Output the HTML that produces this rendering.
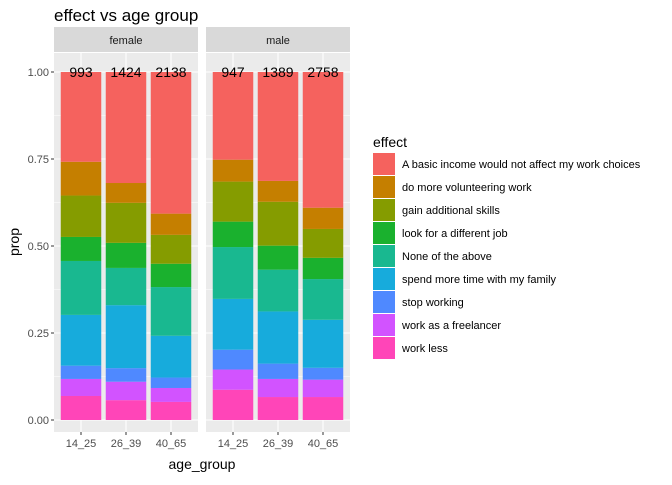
<!DOCTYPE html>
<html><head><meta charset="utf-8"><style>
body{margin:0;background:#fff;font-family:"Liberation Sans",sans-serif;}
</style></head><body>
<svg id="chart" width="672" height="480" xmlns="http://www.w3.org/2000/svg" font-family="Liberation Sans, sans-serif">
<text x="54" y="21" font-size="17" fill="#000">effect vs age group</text>
<g id="panels"></g>
<text x="202" y="469" font-size="14" text-anchor="middle">age_group</text>
<text transform="translate(19,242) rotate(-90)" font-size="14" text-anchor="middle">prop</text>
<g id="legend"></g>
</svg>
<script>
const effects=["A basic income would not affect my work choices","do more volunteering work","gain additional skills","look for a different job","None of the above","spend more time with my family","stop working","work as a freelancer","work less"];
const colors=["#F5625E","#C57F00","#859C00","#1AB12E","#19B890","#17ABDC","#4F89FF","#D253FF","#FF45B8"];
const genders=["female","male"];
const ageGroups=["14_25","26_39","40_65"];
const counts=[[993,1424,2138],[947,1389,2758]];
// proportions per bar, bottom-to-top order: work less ... A basic income
const female14=[0.069,0.049,0.038,0.146,0.155,0.069,0.119,0.097,0.258];
const female26=[0.057,0.053,0.039,0.181,0.107,0.072,0.115,0.057,0.319];
const female40=[0.052,0.040,0.030,0.120,0.140,0.067,0.083,0.061,0.407];
const male14=[0.087,0.058,0.057,0.146,0.149,0.073,0.115,0.063,0.252];
const male26=[0.066,0.052,0.044,0.150,0.120,0.069,0.126,0.060,0.313];
const male40=[0.066,0.050,0.034,0.138,0.117,0.061,0.083,0.061,0.390];
const yTicks=["0.00","0.25","0.50","0.75","1.00"];

const props=[[female14,female26,female40],[male14,male26,male40]];
const NS="http://www.w3.org/2000/svg";
const g=document.getElementById('panels');
function mk(t,a,p){const e=document.createElementNS(NS,t);for(const k in a)e.setAttribute(k,a[k]);(p||g).appendChild(e);return e;}
const y=v=>420-v*348;
const panelX=[54,206],pw=144,pTop=53,pBot=432;
const unit=pw/3.2;
const x=(pi,i)=>panelX[pi]+(0.6+i)*unit;
const bw=unit*0.9;
genders.forEach((gd,pi)=>{
  const px=panelX[pi];
  const bg=mk('rect',{x:px,y:pTop,width:pw,height:pBot-pTop,fill:'#EBEBEB'});
  
  
  for(let v=0.125;v<1.1;v+=0.25)mk('line',{x1:px,x2:px+pw,y1:y(v),y2:y(v),stroke:'#fff','stroke-width':0.5});
  yTicks.forEach(t=>mk('line',{x1:px,x2:px+pw,y1:y(+t),y2:y(+t),stroke:'#fff','stroke-width':1.1}));
  ageGroups.forEach((a,i)=>mk('line',{x1:x(pi,i),x2:x(pi,i),y1:pTop,y2:pBot,stroke:'#fff','stroke-width':1.1}));
  const st=mk('rect',{x:px,y:27,width:pw,height:25,fill:'#D9D9D9'});
  
  
  const stt=mk('text',{x:px+pw/2,y:44,'font-size':11,'text-anchor':'middle',fill:'#1A1A1A'});
  stt.textContent=gd;
  
  
  ageGroups.forEach((a,i)=>{
    let cum=0;const vals=props[pi][i];
    vals.forEach((v,k)=>{
      const r=mk('rect',{x:x(pi,i)-bw/2,y:y(cum+v),width:bw,height:v*348,fill:colors[8-k]});
      
      
      cum+=v;
    });
    const ct=mk('text',{x:x(pi,i),y:y(1)+5,'font-size':14,'text-anchor':'middle',fill:'#000'});
    ct.textContent=counts[pi][i];
    
    
    mk('line',{x1:x(pi,i),x2:x(pi,i),y1:pBot,y2:pBot+3,stroke:'#333'});
    const tl=mk('text',{x:x(pi,i),y:pBot+15,'font-size':11,'text-anchor':'middle',fill:'#4D4D4D'});
    tl.textContent=a;
    
    
  });
});
yTicks.forEach(t=>{
  mk('line',{x1:51,x2:54,y1:y(+t),y2:y(+t),stroke:'#333'});
  const tl=mk('text',{x:49,y:y(+t)+4,'font-size':11,'text-anchor':'end',fill:'#4D4D4D'});
  tl.textContent=t;
  
  
});
const lg=document.getElementById('legend');
const lt=mk('text',{x:373,y:147,'font-size':14,fill:'#000'},lg);
lt.textContent='effect';


effects.forEach((e,k)=>{
  const cy=164+k*23;
  const r=mk('rect',{x:373,y:cy-11,width:22,height:22,fill:colors[k]},lg);
  
  
  const t=mk('text',{x:402,y:cy+4,'font-size':11,fill:'#000'},lg);
  t.textContent=e;
  
  
});
</script>
</body></html>
